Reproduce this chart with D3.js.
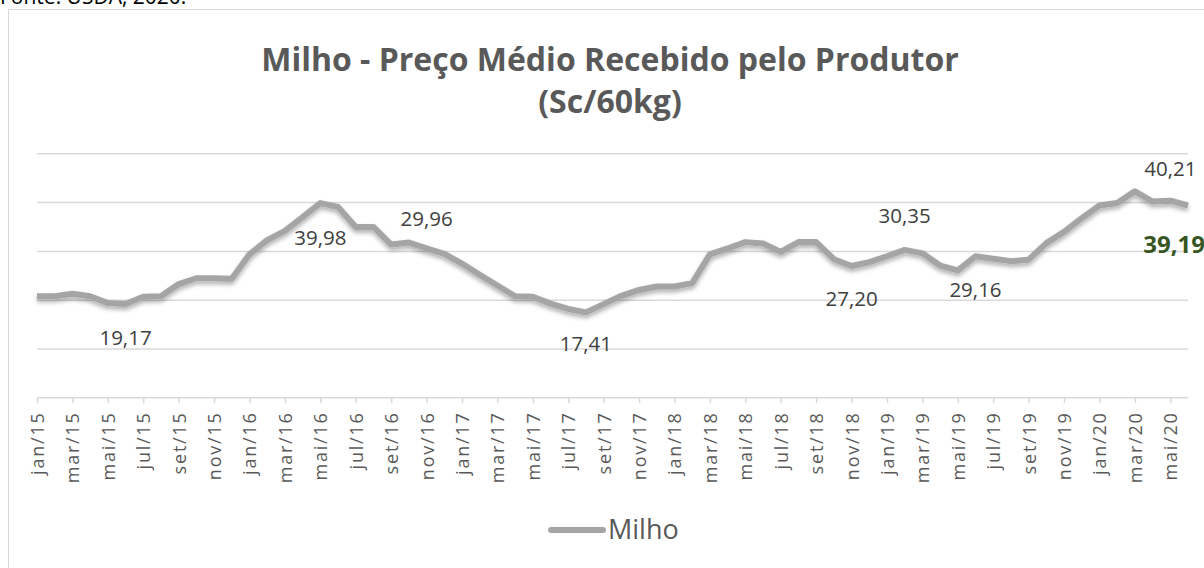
<!DOCTYPE html>
<html>
<head>
<meta charset="utf-8">
<style>
  body { margin: 0; background: #fff; }
  svg { display: block; font-family: 'Open Sans', sans-serif; }
</style>
</head>
<body>
<div id="chart"></div>
<script src="https://cdn.jsdelivr.net/npm/d3@7"></script>
<script>
var width = 1204, height = 568;

var months = ['jan/15','fev/15','mar/15','abr/15','mai/15','jun/15','jul/15','ago/15','set/15','out/15','nov/15','dez/15',
              'jan/16','fev/16','mar/16','abr/16','mai/16','jun/16','jul/16','ago/16','set/16','out/16','nov/16','dez/16',
              'jan/17','fev/17','mar/17','abr/17','mai/17','jun/17','jul/17','ago/17','set/17','out/17','nov/17','dez/17',
              'jan/18','fev/18','mar/18','abr/18','mai/18','jun/18','jul/18','ago/18','set/18','out/18','nov/18','dez/18',
              'jan/19','fev/19','mar/19','abr/19','mai/19','jun/19','jul/19','ago/19','set/19','out/19','nov/19','dez/19',
              'jan/20','fev/20','mar/20','abr/20','mai/20','jun/20'];

// Milho - preco medio (Sc/60kg)
var milho = [20.7, 20.7, 21.2, 20.7, 19.3, 19.1, 20.6, 20.7, 23.2, 24.4, 24.4, 24.3,
             29.3, 32.2, 34.1, 36.9, 39.8, 39.0, 34.9, 34.9, 31.3, 31.7, 30.5, 29.4,
             27.4, 25.1, 22.9, 20.7, 20.6, 19.2, 18.1, 17.4, 19.1, 20.8, 22.0, 22.7,
             22.7, 23.4, 29.3, 30.5, 31.8, 31.5, 29.8, 31.8, 31.8, 28.3, 26.9, 27.7,
             28.9, 30.2, 29.5, 27.0, 26.0, 28.9, 28.4, 27.9, 28.2, 31.6, 33.9, 36.7,
             39.3, 39.8, 42.2, 40.1, 40.3, 39.3];

var yTicks = [0, 10, 20, 30, 40, 50];

var annText  = ['19,17', '39,98', '29,96', '17,41', '27,20', '30,35', '29,16', '40,21'];
var annMonth = ['jun/15', 'mai/16', 'nov/16', 'ago/17', 'nov/18', 'fev/19', 'jun/19', 'mai/20'];

var lastText = '39,19', lastMonth = 'mai/20';

var svg = d3.select('#chart').append('svg')
    .attr('width', width)
    .attr('height', height);

var defs = svg.append('defs');
var f = defs.append('filter').attr('id', 'shadow')
    .attr('x', '-5%').attr('y', '-20%').attr('width', '110%').attr('height', '150%');
f.append('feDropShadow').attr('dx', 0).attr('dy', 3).attr('stdDeviation', 2)
    .attr('flood-color', '#000').attr('flood-opacity', 0.3);

// fonte (cortada no topo, como no original)
svg.append('text')
    .attr('x', 0).attr('y', 4)
    .attr('font-size', 21)
    .attr('fill', '#000')
    .text('Fonte: USDA, 2020.');

// borda do grafico
svg.append('rect')
    .attr('x', 8.5).attr('y', 9.5)
    .attr('width', 1300).attr('height', 700)
    .attr('fill', '#fff')
    .attr('stroke', '#d9d9d9');

// titulo
var title = svg.append('text')
    .attr('text-anchor', 'middle')
    .attr('font-weight', 'bold')
    .attr('font-size', 32)
    .attr('fill', '#595959');
title.append('tspan').attr('x', 610).attr('y', 71).text('Milho - Preço Médio Recebido pelo Produtor');
title.append('tspan').attr('x', 610).attr('y', 113).text('(Sc/60kg)');

var x = d3.scalePoint()
    .domain(months)
    .range([37, 1188]);

var y = d3.scaleLinear()
    .domain([0, 50])
    .range([397.3, 153.3]);

// linhas de grade
svg.append('g')
    .attr('transform', 'translate(37,0)')
    .call(d3.axisLeft(y).tickValues(yTicks.slice(1)).tickSize(-(1188 - 37)).tickFormat(''))
    .call(function(g){
        g.select('.domain').remove();
        g.selectAll('line').attr('stroke', '#d9d9d9').attr('stroke-width', 1.5);
    });

// eixo x
var xAxis = svg.append('g')
    .attr('transform', 'translate(0,' + y(0) + ')')
    .call(d3.axisBottom(x)
        .tickValues(months.filter(function(d, i){ return i % 2 == 0; }))
        .tickSize(6)
        .tickSizeOuter(0));
xAxis.select('.domain').attr('stroke', '#d9d9d9').attr('stroke-width', 1.5);
xAxis.selectAll('.tick line').attr('stroke', '#d9d9d9').attr('stroke-width', 1.5);
xAxis.selectAll('.tick text')
    .attr('transform', 'rotate(-90)')
    .attr('x', -14)
    .attr('y', 0)
    .attr('dy', '0.36em')
    .attr('text-anchor', 'end')
    .attr('font-family', "'Open Sans', sans-serif")
    .attr('font-size', 18)
    .attr('letter-spacing', '1.8px')
    .attr('fill', '#595959');

// linha
var line = d3.line()
    .x(function(d, i){ return x(months[i]); })
    .y(function(d){ return y(d); });

svg.append('path')
    .datum(milho)
    .attr('d', line)
    .attr('fill', 'none')
    .attr('stroke', '#a5a5a5')
    .attr('stroke-width', 6)
    .attr('stroke-linejoin', 'round')
    .attr('filter', 'url(#shadow)');

// rotulos de dados
var annDy = [41, 42, -22, 39, 40, -27, 41, -25];
svg.append('g').selectAll('text')
    .data(annText)
    .enter().append('text')
    .attr('x', function(d, i){ return x(annMonth[i]); })
    .attr('y', function(d, i){ return y(milho[months.indexOf(annMonth[i])]) + annDy[i]; })
    .attr('text-anchor', 'middle')
    .attr('font-size', 20.5)
    .attr('fill', '#404040')
    .text(function(d){ return d; });

svg.append('text')
    .attr('x', x(lastMonth) - 27)
    .attr('y', y(milho[months.indexOf(lastMonth)]) + 52)
    .attr('font-size', 24)
    .attr('font-weight', 'bold')
    .attr('fill', '#375623')
    .text(lastText);

// legenda
svg.append('line')
    .attr('x1', 551).attr('x2', 603)
    .attr('y1', 530).attr('y2', 530)
    .attr('stroke', '#a5a5a5')
    .attr('stroke-width', 6)
    .attr('stroke-linecap', 'round');
svg.append('text')
    .attr('x', 608).attr('y', 539)
    .attr('font-size', 27)
    .attr('fill', '#595959')
    .text('Milho');
</script>
</body>
</html>
